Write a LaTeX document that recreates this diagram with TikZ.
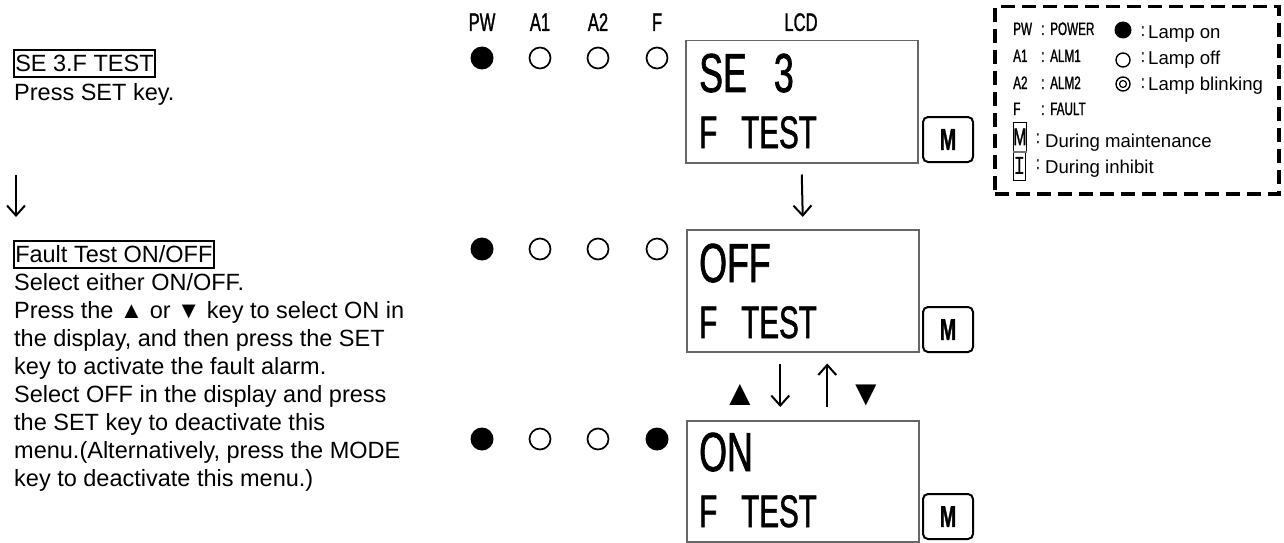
\documentclass[tikz,border=0pt]{standalone}
\usepackage{fontspec}
\setmainfont{Liberation Sans}
\newfontfamily\lcd[FakeStretch=0.65,FakeBold=1.2]{Liberation Sans}
\newfontfamily\lcdmono[FakeStretch=0.75]{Liberation Mono}
\usetikzlibrary{arrows.meta,calc}
\begin{document}
\begin{tikzpicture}[x=1pt,y=-1pt,
  lcdbox/.style={draw=black!60, line width=1.5pt, anchor=north west, inner sep=0pt, minimum width=232pt, minimum height=122pt},
  lcdbig/.style={anchor=base west, inner sep=0pt, font=\lcd\fontsize{55}{60}\selectfont},
  lcdsmall/.style={anchor=base west, inner sep=0pt, font=\lcd\fontsize{45.5}{50}\selectfont},
  lamplabel/.style={anchor=base, inner sep=0pt, font=\lcd\fontsize{25.5}{28}\selectfont},
  lampon/.style={circle, fill=black, minimum size=23pt, inner sep=0pt},
  lampoff/.style={circle, draw=black, line width=1.7pt, minimum size=21pt, inner sep=0pt},
  mkey/.style={draw, line width=2pt, rounded corners=5pt, minimum width=50pt, minimum height=45pt, anchor=north west, inner sep=0pt, font=\lcd\bfseries\fontsize{30}{32}\selectfont},
  flow/.style={line width=2pt, -{Straight Barb[length=10pt,width=18pt,line width=2pt]}},
  bodytext/.style={anchor=base west, inner sep=0pt, font=\fontsize{23.5}{28}\selectfont},
  heading/.style={bodytext, draw, line width=1.5pt, inner xsep=1.5pt, inner ysep=0pt, text height=21pt, text depth=6pt},
  keysym/.style={inner sep=0pt, font=\fontsize{36}{38}\selectfont},
  legframe/.style={draw, line width=3.5pt, dash pattern=on 14pt off 7pt, anchor=north west, minimum width=284pt, minimum height=187pt, inner sep=0pt},
  leglab/.style={anchor=base west, inner sep=0pt, font=\lcd\fontsize{18}{20}\selectfont},
  legtext/.style={anchor=base west, inner sep=0pt, font=\fontsize{18.6}{22}\selectfont},
  legon/.style={circle, fill=black, minimum size=17pt, inner sep=0pt},
  legoff/.style={circle, draw=black, line width=1.4pt, minimum size=14pt, inner sep=0pt},
  legbox/.style={draw, line width=0.8pt, minimum width=12pt, minimum height=29pt, anchor=north west, inner sep=0pt}
]
\useasboundingbox (0,0) rectangle (1284,543);

% ---------- left text ----------
\node[heading] (h1) at (13,71) {SE 3.F TEST};
\node[bodytext] (t1) at (14,100) {Press SET key.};
\coordinate (la1) at (16,175);
\coordinate (la2) at (16,217);
\draw[flow] (la1) -- (la2);
\node[heading] (h2) at (13,262) {Fault Test ON/OFF};
\node[bodytext] (b1) at (14,290) {Select either ON/OFF.};
\node[bodytext] (b2) at (14,318) {Press the ▲ or ▼ key to select ON in};
\node[bodytext] (b3) at (14,346) {the display, and then press the SET};
\node[bodytext] (b4) at (14,374) {key to activate the fault alarm.};
\node[bodytext] (b5) at (14,402) {Select OFF in the display and press};
\node[bodytext] (b6) at (14,430) {the SET key to deactivate this};
\node[bodytext] (b7) at (14,458) {menu.(Alternatively, press the MODE};
\node[bodytext] (b8) at (14,486) {key to deactivate this menu.)};

% ---------- lamp labels ----------
\node[lamplabel] (lpw) at (482,31) {PW};
\node[lamplabel] (la1l) at (540,31) {A1};
\node[lamplabel] (la2l) at (598,31) {A2};
\node[lamplabel] (lf) at (657,31) {F};
\node[lamplabel] (llcd) at (801,31) {LCD};

% ---------- row 1 ----------
\node[lampon]  (r1pw) at (482,58) {};
\node[lampoff] (r1a1) at (540,58) {};
\node[lampoff] (r1a2) at (598,58) {};
\node[lampoff] (r1f)  at (657,58) {};
\node[lcdbox] (lcd1) at (685,40) {};
\node[lcdbig] (l1a) at (699,92) {SE\hspace*{27pt}3};
\node[lcdsmall] (l1b) at (699,148) {F\hspace*{24pt}TEST};
\node[mkey] (m1) at (922,116) {M};

% ---------- row 2 ----------
\node[lampon]  (r2pw) at (482,249) {};
\node[lampoff] (r2a1) at (540,249) {};
\node[lampoff] (r2a2) at (598,249) {};
\node[lampoff] (r2f)  at (657,249) {};
\node[lcdbox] (lcd2) at (686,229) {};
\node[lcdbig] (l2a) at (699,282) {OFF};
\node[lcdsmall] (l2b) at (699,338) {F\hspace*{24pt}TEST};
\node[mkey] (m2) at (922,306) {M};

% ---------- row 3 ----------
\node[lampon]  (r3pw) at (482,439) {};
\node[lampoff] (r3a1) at (540,439) {};
\node[lampoff] (r3a2) at (598,439) {};
\node[lampon]  (r3f)  at (657,439) {};
\node[lcdbox, minimum height=121pt] (lcd3) at (686,420) {};
\node[lcdbig] (l3a) at (699,471) {ON};
\node[lcdsmall] (l3b) at (699,527) {F\hspace*{24pt}TEST};
\node[mkey] (m3) at (922,493) {M};

% ---------- arrows ----------
\draw[flow] ($(lcd1.south)+(0,11)$) -- ($(lcd2.north)+(0,-12)$);
\draw[flow] ($(lcd2.south)+(-22.5,11)$) -- ($(lcd3.north)+(-22.5,-13)$);
\draw[flow] ($(lcd3.north)+(24.5,-13)$) -- ($(lcd2.south)+(24.5,11)$);
\node[keysym] (up) at (740,395) {▲};
\node[keysym] (dn) at (866,395) {▼};

% ---------- legend ----------
\node[legframe] (legend) at (993,5) {};
\node[leglab] (g1) at (1013,35) {PW};
\node[leglab] (g1c) at (1041,35) {:};
\node[leglab] (g1v) at (1050,35) {POWER};
\node[leglab] (g2) at (1013,62) {A1};
\node[leglab] (g2c) at (1041,62) {:};
\node[leglab] (g2v) at (1050,62) {ALM1};
\node[leglab] (g3) at (1013,89) {A2};
\node[leglab] (g3c) at (1041,89) {:};
\node[leglab] (g3v) at (1050,89) {ALM2};
\node[leglab] (g4) at (1013,115) {F};
\node[leglab] (g4c) at (1041,115) {:};
\node[leglab] (g4v) at (1050,115) {FAULT};

\node[legon] (s1) at (1123,30) {};
\node[legoff] (s2) at (1123,60) {};
\node[legoff] (s3) at (1123,84) {};
\node[circle, draw, line width=1.2pt, minimum size=7pt, inner sep=0pt] (s3i) at (s3) {};
\node[leglab] (s1c) at (1141,36) {:};
\node[legtext] (s1t) at (1148,38) {Lamp on};
\node[leglab] (s2c) at (1141,62) {:};
\node[legtext] (s2t) at (1148,64) {Lamp off};
\node[leglab] (s3c) at (1141,88) {:};
\node[legtext] (s3t) at (1148,90) {Lamp blinking};

\node[legbox, font=\lcd\fontsize{24}{26}\selectfont] (gm) at (1013,122) {M};
\node[legbox, font=\lcdmono\fontsize{26}{28}\selectfont] (gi) at (1013,151) {I};
\draw[line width=2pt, black!55] (gm.south west) -- (gm.south east);
\node[leglab] (gmc) at (1036,143) {:};
\node[legtext] (gmt) at (1045,147) {During maintenance};
\node[leglab] (gic) at (1036,169) {:};
\node[legtext] (git) at (1045,173) {During inhibit};
\end{tikzpicture}
\end{document}
